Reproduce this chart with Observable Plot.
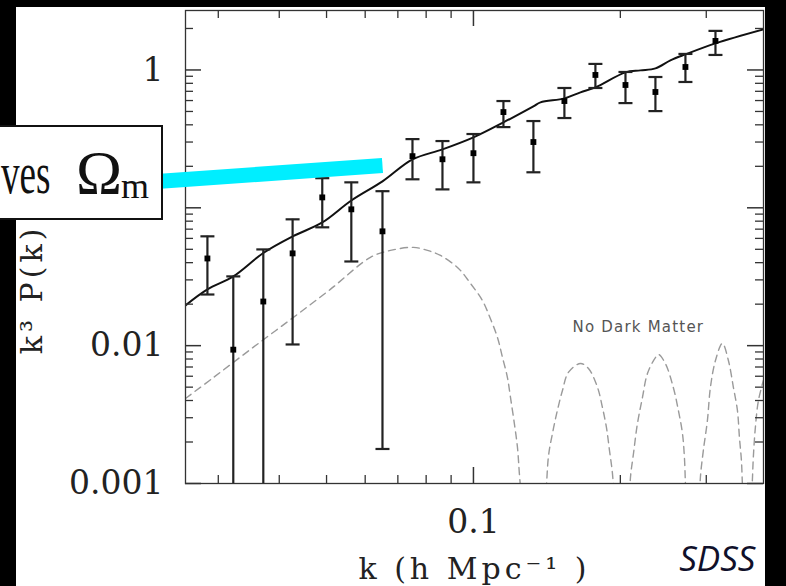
<!DOCTYPE html>
<html><head><meta charset="utf-8">
<script src="https://cdn.jsdelivr.net/npm/d3@7"></script>
<script src="https://cdn.jsdelivr.net/npm/@observablehq/plot@0.6"></script>
<style>
html,body{margin:0;padding:0;background:#000;width:786px;height:586px;overflow:hidden;}
#panel{position:absolute;left:16px;top:7px;width:749px;height:579px;background:#fff;}
#chart{position:absolute;left:0;top:0;}
</style></head><body>
<div id="panel"></div>
<div id="chart"></div>
<script>
// SDSS band powers: k, k^3 P(k), lower and upper error
const dataK  = [0.0285, 0.0322, 0.0371, 0.0426, 0.0490, 0.0562, 0.0651, 0.0750, 0.0864, 0.100, 0.1152, 0.1327, 0.1536, 0.1778, 0.2049, 0.2360, 0.2719, 0.3133];
const dataP  = [0.0429, 0.00935, 0.0209, 0.0467, 0.119, 0.0975, 0.0675, 0.237, 0.225, 0.249, 0.495, 0.300, 0.595, 0.920, 0.778, 0.692, 1.051, 1.625];
const dataLo = [0.0235, 0.0003, 0.0003, 0.0102, 0.0722, 0.0408, 0.00178, 0.161, 0.136, 0.153, 0.385, 0.181, 0.448, 0.740, 0.575, 0.503, 0.818, 1.285];
const dataHi = [0.0621, 0.0318, 0.0499, 0.0825, 0.164, 0.153, 0.132, 0.315, 0.305, 0.343, 0.595, 0.426, 0.740, 1.106, 0.967, 0.889, 1.307, 1.921];

// Dark matter model (solid)
const modelK = [0.0257, 0.0285, 0.0322, 0.0371, 0.0426, 0.0490, 0.0562, 0.0651, 0.0750, 0.0864, 0.100, 0.1152, 0.1327, 0.1372, 0.1536, 0.1657, 0.1778, 0.2049, 0.2199, 0.2360, 0.2533, 0.2719, 0.3133, 0.3928];
const modelP = [0.0196, 0.0256, 0.0318, 0.0470, 0.0620, 0.0783, 0.113, 0.1555, 0.2244, 0.2653, 0.3243, 0.4166, 0.5444, 0.582, 0.6222, 0.688, 0.7479, 0.9607, 0.993, 1.027, 1.174, 1.298, 1.560, 1.970];

// No dark matter model (dashed), split into arches
const nodmK = [0.0257, 0.02932, 0.0349, 0.0422, 0.0509, 0.0615, 0.0676, 0.0753, 0.0805, 0.0856, 0.0932, 0.0986, 0.1043, 0.1083, 0.1120, 0.1147, 0.1174, 0.1191, 0.1213, 0.1231, 0.1242, 0.126,
  0.1405, 0.1424, 0.1452, 0.1486, 0.1522, 0.1565, 0.1657, 0.1721, 0.1796, 0.1838, 0.1873, 0.1900, 0.1927, 0.1945,
  0.2088, 0.2098, 0.2128, 0.2168, 0.2220, 0.2273, 0.2360, 0.2394, 0.2473, 0.2568, 0.2630, 0.2681, 0.2706, 0.2719, 0.2732,
  0.2904, 0.2918, 0.2959, 0.3016, 0.3059, 0.3133, 0.3237, 0.3330, 0.3410, 0.3475, 0.3508, 0.3541, 0.3557, 0.3574,
  0.3711, 0.3729, 0.3746, 0.3782, 0.3837, 0.3928];
const nodmP = [0.00414, 0.00587, 0.00938, 0.01549, 0.0256, 0.0437, 0.0491, 0.0516, 0.0491, 0.0451, 0.0363, 0.0283, 0.0213, 0.01573, 0.01147, 0.0082, 0.00587, 0.00421, 0.00272, 0.00182, 0.00118, 0.00064,
  0.0006, 0.00155, 0.00231, 0.00339, 0.00473, 0.00639, 0.00743, 0.00683, 0.00497, 0.00356, 0.00255, 0.00174, 0.00118, 0.0007,
  0.0007, 0.00111, 0.00165, 0.00272, 0.00421, 0.00628, 0.0082, 0.00863, 0.00743, 0.00497, 0.00339, 0.00231, 0.00155, 0.001, 0.0007,
  0.0007, 0.00111, 0.00174, 0.00286, 0.00497, 0.00781, 0.01038, 0.00781, 0.00497, 0.00339, 0.00216, 0.00147, 0.001, 0.0007,
  0.0007, 0.00105, 0.00155, 0.00255, 0.0040, 0.00559];
const nodmSeg = [1,1,1,1,1,1,1,1,1,1,1,1,1,1,1,1,1,1,1,1,1,1,
  2,2,2,2,2,2,2,2,2,2,2,2,2,2,
  3,3,3,3,3,3,3,3,3,3,3,3,3,3,3,
  4,4,4,4,4,4,4,4,4,4,4,4,4,4,
  5,5,5,5,5,5];

// axis ticks (the 0.1 label on the y axis is hidden behind the box in the original)
const xMajorTicks = [0.1];
const xMinorTicks = [0.03, 0.04, 0.05, 0.06, 0.07, 0.08, 0.09, 0.2, 0.3];
const xTickLabels = ["0.1"];
const yMajorTicks = [1, 0.1, 0.01, 0.001];
const yMinorTicks = [2, 0.9, 0.8, 0.7, 0.6, 0.5, 0.4, 0.3, 0.2, 0.09, 0.08, 0.07, 0.06, 0.05, 0.04, 0.03, 0.02, 0.009, 0.008, 0.007, 0.006, 0.005, 0.004, 0.003, 0.002];
const yLabelTicks = [1, 0.01, 0.001];
const yTickLabels = ["1", "0.01", "0.001"];

// labels / annotation
const xLabel = "k (h Mpc\u207B\u00B9 )";
const yLabel = "k\u00B3 P(k)";
const yLabelK = [0.01248];
const yLabelP = [0.0256];
const noDmLabel = "No Dark Matter";
const noDmLabelK = [0.2178];
const noDmLabelP = [0.0125];
const sourceLabel = "SDSS";
const cyanK = [0.021, 0.0651];
const cyanP = [0.1524, 0.203];

const W = 786, H = 586, mL = 185, mR = 23, mT = 10, mB = 103;
const innerW = W - mL - mR, innerH = H - mT - mB;
const points = dataK.map((k, i) => ({k, p: dataP[i], lo: dataLo[i], hi: dataHi[i]}));
const model = modelK.map((k, i) => ({k, p: modelP[i]}));
const nodm = nodmK.map((k, i) => ({k, p: nodmP[i], seg: nodmSeg[i]}));
const cyan = cyanK.map((k, i) => ({k, p: cyanP[i]}));
const capSymbol = {draw(ctx, size) { const w = Math.sqrt(size / Math.PI); ctx.moveTo(-w, 0); ctx.lineTo(w, 0); }};
const serif = "'DejaVu Serif', serif";
const axisCol = "#333";

const plot = Plot.plot({
  width: W, height: H, marginLeft: mL, marginRight: mR, marginTop: mT, marginBottom: mB,
  style: {background: "transparent", overflow: "visible"},
  x: {type: "log", domain: [0.0257, 0.393], axis: null},
  y: {type: "log", domain: [0.001, 2.7], axis: null},
  marks: [
    Plot.line(nodm, {x: "k", y: "p", z: "seg", stroke: "#9a9a9a", strokeWidth: 1.4, strokeDasharray: "7,5", curve: "catmull-rom", clip: true}),
    Plot.line(model, {x: "k", y: "p", stroke: "#111", strokeWidth: 2, curve: "catmull-rom", clip: true}),
    Plot.ruleX(points, {x: "k", y1: "lo", y2: "hi", stroke: "#222", strokeWidth: 2.2, clip: true}),
    Plot.dot(points, {x: "k", y: "hi", symbol: capSymbol, r: 7, stroke: "#222", strokeWidth: 2.2, fill: "none", clip: true}),
    Plot.dot(points, {x: "k", y: "lo", symbol: capSymbol, r: 7, stroke: "#222", strokeWidth: 2.2, fill: "none", clip: true}),
    Plot.dot(points, {x: "k", y: "p", symbol: "square", r: 3.3, fill: "#000", stroke: null}),
    Plot.frame({stroke: axisCol, strokeWidth: 1.3}),
    // inward ticks, four sides
    Plot.ruleX(xMinorTicks, {x: d => d, insetTop: innerH - 8, stroke: axisCol, strokeWidth: 1.3}),
    Plot.ruleX(xMinorTicks, {x: d => d, insetBottom: innerH - 8, stroke: axisCol, strokeWidth: 1.3}),
    Plot.ruleX(xMajorTicks, {x: d => d, insetTop: innerH - 16, stroke: axisCol, strokeWidth: 1.5}),
    Plot.ruleX(xMajorTicks, {x: d => d, insetBottom: innerH - 16, stroke: axisCol, strokeWidth: 1.5}),
    Plot.ruleY(yMinorTicks, {y: d => d, insetRight: innerW - 8, stroke: axisCol, strokeWidth: 1.3}),
    Plot.ruleY(yMinorTicks, {y: d => d, insetLeft: innerW - 8, stroke: axisCol, strokeWidth: 1.3}),
    Plot.ruleY(yMajorTicks, {y: d => d, insetRight: innerW - 16, stroke: axisCol, strokeWidth: 1.5}),
    Plot.ruleY(yMajorTicks, {y: d => d, insetLeft: innerW - 16, stroke: axisCol, strokeWidth: 1.5}),
    // tick labels
    Plot.text(yLabelTicks, {y: d => d, text: (d, i) => yTickLabels[i], frameAnchor: "left", textAnchor: "end", dx: -22, fontFamily: serif, fontSize: 33, fill: "#222"}),
    Plot.text(xMajorTicks, {x: d => d, text: (d, i) => xTickLabels[i], frameAnchor: "bottom", lineAnchor: "bottom", dy: 49, fontFamily: serif, fontSize: 33, fill: "#222"}),
    // axis labels
    Plot.text([xLabel], {frameAnchor: "bottom", lineAnchor: "bottom", dy: 95, fontFamily: serif, fontSize: 30, fill: "#222"}),
    Plot.text([yLabel], {x: yLabelK, y: yLabelP, rotate: -90, textAnchor: "middle", lineAnchor: "middle", fontFamily: serif, fontSize: 30, fill: "#222"}),
    Plot.text([noDmLabel], {x: noDmLabelK, y: noDmLabelP, textAnchor: "middle", lineAnchor: "bottom", fontFamily: "'DejaVu Sans', sans-serif", fontSize: 15, fill: "#555"}),
    Plot.text([sourceLabel], {frameAnchor: "bottom-right", textAnchor: "end", lineAnchor: "bottom", dx: -8, dy: 87, fontFamily: "'Open Sans', sans-serif", fontStyle: "italic", fontSize: 35, fill: "#10102a"}),
    // cyan annotation line
    Plot.line(cyan, {x: "k", y: "p", stroke: "#00eeff", strokeWidth: 15, strokeLinecap: "butt"})
  ]
});
document.getElementById("chart").appendChild(plot);

const svg = d3.select(plot);
svg.selectAll("text").filter(function() { return this.textContent === xLabel || this.textContent === yLabel; }).style("letter-spacing", "4px");
svg.selectAll("text").filter(function() { return this.textContent === noDmLabel; }).style("letter-spacing", "1.2px");

// annotation box
const box = svg.append("g").attr("text-anchor", "start");
box.append("rect").attr("x", -2).attr("y", 126).attr("width", 164).attr("height", 93)
  .attr("fill", "#fff").attr("stroke", "#111").attr("stroke-width", 2);
const boxFont = "'Liberation Serif', 'Times New Roman', serif";
box.append("text").attr("transform", "translate(1,193) scale(0.62,1)")
  .attr("font-family", boxFont).attr("font-size", 60).attr("fill", "#111").text("ves");
const omega = box.append("text").attr("x", 76).attr("y", 193)
  .attr("font-family", boxFont).attr("font-size", 62).attr("fill", "#111");
omega.append("tspan").text("\u03A9");
omega.append("tspan").attr("font-size", 36).attr("dy", 5).attr("dx", -1).text("m");
</script>
</body></html>
